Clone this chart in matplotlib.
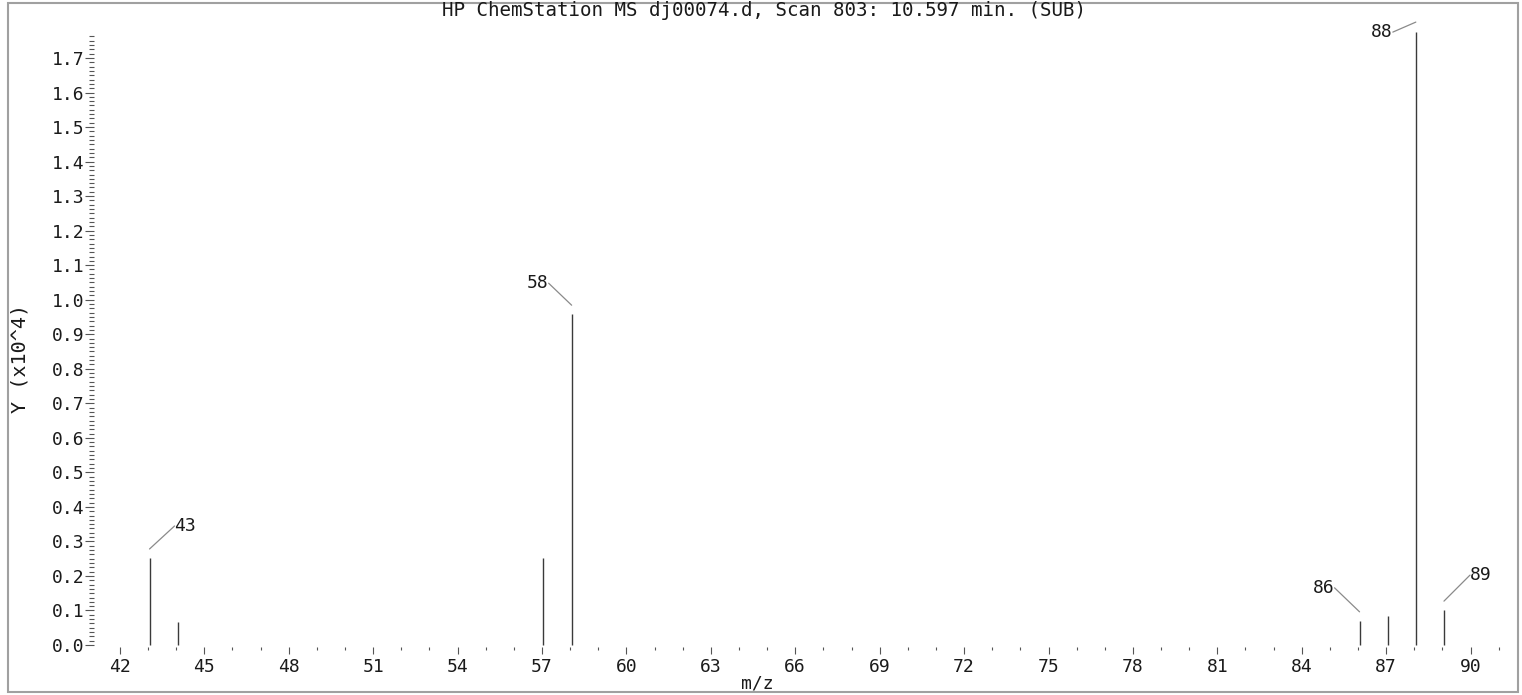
import numpy as np
import matplotlib
matplotlib.use("Agg")
import matplotlib.pyplot as plt
from matplotlib.ticker import MultipleLocator, FixedLocator, FormatStrFormatter
from matplotlib.transforms import offset_copy
from matplotlib.patches import Rectangle

# ---- data (intensity in units of 10^4) ----
mz = [43, 44, 57, 58, 86, 87, 88, 89]
intensity = [0.252, 0.067, 0.252, 0.958, 0.070, 0.084, 1.775, 0.101]
labeled_mz = [43, 58, 86, 88, 89]
title_text = "HP ChemStation MS dj00074.d, Scan 803: 10.597 min. (SUB)"
xlabel_text = "m/z"
ylabel_text = "Y (x10^4)"

# label leader styles: (gap above peak px, dx px, dy px, side)
label_style = {
    43: (9, 23, 23, "right"),
    58: (9, -22, 22, "left"),
    86: (9, -24, 24, "left"),
    88: (10, -22, -10, "left"),
    89: (9, 24, 26, "right"),
}

FONT = "DejaVu Sans Mono"
FS = 13
TXT = "#1a1a1a"
plt.rcParams["font.family"] = FONT

W, H = 1522, 695
fig = plt.figure(figsize=(W / 100, H / 100), dpi=100)
fig.patch.set_facecolor("white")

# outer gray frame
fig.patches.append(Rectangle((8 / W, 3 / H), 1510 / W, 689 / H, transform=fig.transFigure,
                             fill=False, edgecolor="#a0a0a0", linewidth=1.5))

ax_l, ax_r, ax_t, ax_b = 94, 1510, 35, 647
ax = fig.add_axes([ax_l / W, (H - ax_b) / H, (ax_r - ax_l) / W, (ax_b - ax_t) / H])
ax.set_xlim(41.08, 91.4)
ax.set_ylim(-0.0058, 1.7666)
for s in ax.spines.values():
    s.set_visible(False)

peak_tr = offset_copy(ax.transData, fig=fig, x=1.5, y=0, units="dots")
ax.vlines(mz, 0, intensity, color="#3a3a3a", linewidth=1.0, clip_on=False, transform=peak_tr)

for m, v in zip(mz, intensity):
    if m not in label_style:
        continue
    gap, dx, dy, side = label_style[m]
    xy_tr = offset_copy(ax.transData, fig=fig, x=1.5, y=gap, units="dots")
    ha = "left" if side == "right" else "right"
    relx = 0 if side == "right" else 1
    ax.annotate(str(m), xy=(m, v), xycoords=xy_tr,
                xytext=(dx + (2 if side == "right" else -1), dy), textcoords="offset pixels",
                ha=ha, va="center", fontsize=FS, color=TXT, family=FONT,
                arrowprops=dict(arrowstyle="-", color="#8a8a8a", lw=0.9,
                                shrinkA=0, shrinkB=0, relpos=(relx, 0.5), patchA=None))

# ticks
ax.xaxis.set_major_locator(MultipleLocator(3))
ax.xaxis.set_minor_locator(MultipleLocator(1))
ax.yaxis.set_major_locator(FixedLocator(np.round(np.arange(0, 1.75, 0.1), 2)))
ax.yaxis.set_minor_locator(MultipleLocator(0.0125))
ax.yaxis.set_major_formatter(FormatStrFormatter("%.1f"))
ax.tick_params(axis="x", which="major", length=5, width=0.8, color="#555555",
               labelsize=FS, labelcolor=TXT, pad=3)
ax.tick_params(axis="x", which="minor", length=2.5, width=0.8, color="#555555")
ax.tick_params(axis="y", which="major", length=6.5, width=0.8, color="#555555",
               labelsize=FS, labelcolor=TXT, pad=0.5)
ax.tick_params(axis="y", which="minor", length=3.6, width=0.8, color="#555555")

fig.text(764 / W, 1 - 10.5 / H, title_text, ha="center", va="center", fontsize=13.8, color=TXT)
fig.text(757 / W, 1 - 683 / H, xlabel_text, ha="center", va="center", fontsize=FS, color=TXT)
fig.text(20 / W, 1 - 358 / H, ylabel_text, ha="center", va="center", rotation=90,
         fontsize=14.5, color=TXT)

fig.savefig("out.png", dpi=100, facecolor="white")
